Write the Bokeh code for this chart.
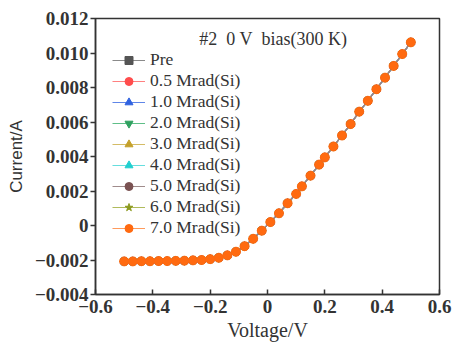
from bokeh.plotting import figure
from bokeh.models import Legend, LegendItem, Label, CustomJSTickFormatter, FixedTicker, ColumnDataSource
from bokeh.embed import file_html
from bokeh.resources import INLINE
import math

# ---- data ----
voltage = [-0.50, -0.47, -0.44, -0.41, -0.38, -0.35, -0.32, -0.29, -0.26, -0.23,
           -0.20, -0.17, -0.14, -0.11, -0.08, -0.05, -0.02, 0.01, 0.04, 0.07,
           0.10, 0.12, 0.15, 0.18, 0.20, 0.23, 0.26, 0.29, 0.32, 0.35,
           0.38, 0.41, 0.44, 0.47, 0.50]
current = [-0.00208, -0.00208, -0.00207, -0.00207, -0.00206, -0.00206, -0.00205, -0.00204, -0.00202, -0.00200,
           -0.00195, -0.00187, -0.00173, -0.00152, -0.00120, -0.00077, -0.00030, 0.00020, 0.00071, 0.00129,
           0.00183, 0.00227, 0.00289, 0.00353, 0.00395, 0.00458, 0.00522, 0.00588, 0.00660, 0.00723,
           0.00790, 0.00857, 0.00925, 0.00994, 0.01062]

series_labels = ["Pre", "0.5 Mrad(Si)", "1.0 Mrad(Si)", "2.0 Mrad(Si)", None,
                 "3.0 Mrad(Si)", "4.0 Mrad(Si)", "5.0 Mrad(Si)", "6.0 Mrad(Si)", "7.0 Mrad(Si)"]
series_colors = ["#555555", "#ff4d4d", "#2f62e0", "#2fa05f", "#a877e0",
                 "#c4a02a", "#1fcfcf", "#7a5252", "#8c9a1f", "#ff6a10"]
series_line_colors = ["#8a8a8a", "#ff8080", "#5f86e8", "#5fbf88", "#c4a3ec",
                      "#d4bc66", "#66dede", "#a08c8c", "#b0bb5c", "#ff9a5c"]
series_markers = ["square", "circle", "triangle", "inverted_triangle", "diamond",
                  "triangle", "triangle", "circle", "star", "circle"]
series_angles = [0, 0, 0, 0, 0, math.pi / 2, -math.pi / 2, 0, 0, 0]
series_sizes = [6, 8, 8, 8, 8, 8, 8, 8, 8, 9]

x_ticks = [-0.6, -0.4, -0.2, 0.0, 0.2, 0.4, 0.6]
y_ticks = [-0.004, -0.002, 0.0, 0.002, 0.004, 0.006, 0.008, 0.010, 0.012]

title_text = "#2\u00a0\u00a00 V\u00a0\u00a0bias(300 K)"

# ---- figure ----
p = figure(width=454, height=344, x_range=(-0.6, 0.6), y_range=(-0.004, 0.012),
           output_backend="svg", toolbar_location=None,
           min_border_left=95, min_border_right=15, min_border_top=18, min_border_bottom=50)
p.background_fill_color = "white"
p.border_fill_color = "white"
p.xgrid.visible = False
p.ygrid.visible = False
p.outline_line_color = "#333333"
p.outline_line_width = 1.5

src = ColumnDataSource(dict(v=voltage, i=current))

line_renderers = [None] * len(series_labels)
for k in reversed(range(len(series_labels))):
    line_renderers[k] = p.line("v", "i", source=src, line_color=series_line_colors[k], line_width=1.2)

marker_renderers = []
for k in range(len(series_labels)):
    r = p.scatter("v", "i", source=src, marker=series_markers[k], size=series_sizes[k],
                  angle=series_angles[k], fill_color=series_colors[k], line_color=series_colors[k])
    marker_renderers.append(r)

items = []
for k, lab in enumerate(series_labels):
    if lab is None:
        continue
    items.append(LegendItem(label=lab, renderers=[line_renderers[k], marker_renderers[k]]))

legend = Legend(items=items, location=(17, 56), padding=0, margin=0, spacing=0,
                glyph_height=20, label_height=20, glyph_width=33, label_standoff=5,
                border_line_color=None, background_fill_alpha=0,
                label_text_font="Liberation Serif", label_text_font_size="17.5px",
                label_text_color="#333333")
p.add_layout(legend)

p.add_layout(Label(x=0.02, y=0.0108, text=title_text, text_align="center", text_baseline="middle",
                   text_font="Liberation Serif", text_font_size="18px", text_color="#333333"))

fmt_x = CustomJSTickFormatter(code="""
    if (Math.abs(tick) < 1e-9) return "0";
    return tick.toFixed(1).replace("-", "\u2212");
""")
fmt_y = CustomJSTickFormatter(code="""
    if (Math.abs(tick) < 1e-12) return "0";
    return tick.toFixed(3).replace("-", "\u2212");
""")

xa = p.xaxis[0]
xa.ticker = FixedTicker(ticks=x_ticks)
xa.formatter = fmt_x
xa.axis_label = "Voltage/V"
xa.axis_label_text_font = "Liberation Serif"
xa.axis_label_text_font_style = "normal"
xa.axis_label_text_font_size = "20px"
xa.axis_label_text_color = "#333333"
xa.axis_label_standoff = 3
xa.major_label_text_font = "Liberation Serif"
xa.major_label_text_font_style = "bold"
xa.major_label_text_font_size = "19px"
xa.major_label_text_color = "#333333"
xa.major_label_standoff = 5
xa.major_tick_in = 5
xa.major_tick_out = 0
xa.minor_tick_line_color = None
xa.axis_line_color = "#333333"
xa.axis_line_width = 1.5
xa.major_tick_line_color = "#333333"
xa.major_tick_line_width = 1.5

ya = p.yaxis[0]
ya.ticker = FixedTicker(ticks=y_ticks)
ya.formatter = fmt_y
ya.axis_label = "Current/A"
ya.axis_label_text_font = "Liberation Sans"
ya.axis_label_text_font_style = "normal"
ya.axis_label_text_font_size = "17px"
ya.axis_label_text_color = "#333333"
ya.axis_label_standoff = 6
ya.major_label_text_font = "Liberation Serif"
ya.major_label_text_font_style = "bold"
ya.major_label_text_font_size = "19px"
ya.major_label_text_color = "#333333"
ya.major_label_standoff = 2
ya.major_tick_in = 0
ya.major_tick_out = 5
ya.minor_tick_line_color = None
ya.axis_line_color = "#333333"
ya.axis_line_width = 1.5
ya.major_tick_line_color = "#333333"
ya.major_tick_line_width = 1.5

open("out.html", "w").write(file_html(p, INLINE))
